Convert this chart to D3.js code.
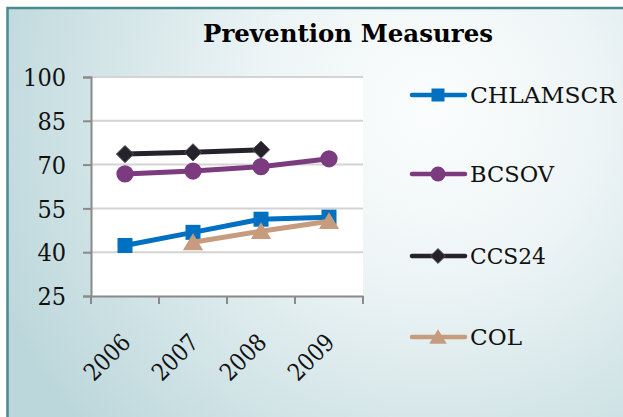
<!DOCTYPE html>
<html><head><meta charset="utf-8">
<script src="https://cdn.jsdelivr.net/npm/d3@7/dist/d3.min.js"></script>
<style>html,body{margin:0;padding:0;background:#fff;overflow:hidden}</style>
</head><body>
<svg id="c" width="623" height="417"></svg>
<script>
const years = ["2006","2007","2008","2009"];
const yTicks = [25,40,55,70,85,100];
const chlamscr = [42.3, 46.8, 51.3, 52.0];
const bcsov = [66.8, 67.8, 69.3, 72.0];
const ccs24 = [73.6, 74.2, 75.1, null];
const col = [null, 43.4, 47.2, 50.6];
const seriesNames = ["CHLAMSCR","BCSOV","CCS24","COL"];
const seriesColors = ["#0070c0","#7b3b7e","#25222b","#c79b7d"];
const seriesShapes = ["square","circle","diamond","triangle"];
const seriesValues = [chlamscr, bcsov, ccs24, col];

const svg = d3.select("#c");
const font = "'DejaVu Serif', serif";

// background
const defs = svg.append("defs");
const rg = defs.append("radialGradient").attr("id","bg")
  .attr("gradientUnits","userSpaceOnUse").attr("cx",430).attr("cy",110).attr("r",470);
rg.append("stop").attr("offset","0%").attr("stop-color","#fbfdfd");
rg.append("stop").attr("offset","35%").attr("stop-color","#eef5f6");
rg.append("stop").attr("offset","100%").attr("stop-color","#bcd7db");
svg.append("rect").attr("x",7.5).attr("y",8).attr("width",630).attr("height",430)
  .attr("fill","url(#bg)").attr("stroke","#4a8a8f").attr("stroke-width",2.5);

const m = {l:91, r:363, t:77, b:296};
const x = d3.scaleBand().domain(years).range([m.l, m.r]);
const y = d3.scaleLinear().domain([25,100]).range([m.b, m.t]);

svg.append("rect").attr("x",m.l).attr("y",m.t).attr("width",m.r-m.l).attr("height",m.b-m.t).attr("fill","#fff");

// gridlines
svg.append("g").selectAll("line").data(yTicks.slice(1)).join("line")
  .attr("x1",m.l).attr("x2",m.r).attr("y1",d=>y(d)).attr("y2",d=>y(d))
  .attr("stroke","#d3d3d3").attr("stroke-width",2);

// axes
const yAxis = svg.append("g").attr("transform",`translate(${m.l},0)`)
  .call(d3.axisLeft(y).tickValues(yTicks).tickSize(8).tickPadding(17));
yAxis.select(".domain").attr("stroke","#8a8a8a").attr("stroke-width",2);
yAxis.selectAll(".tick line").attr("stroke","#8a8a8a").attr("stroke-width",2);
yAxis.selectAll(".tick text").attr("font-family",font).attr("font-size",24).attr("fill","#111")
  .attr("dy","0.36em").each(function(){ const t=d3.select(this); t.attr("textLength", t.text().length*14.3).attr("lengthAdjust","spacingAndGlyphs"); });

const xAxis = svg.append("g").attr("transform",`translate(0,${m.b})`)
  .call(d3.axisBottom(x).tickSize(0).tickFormat(""));
xAxis.select(".domain").attr("stroke","#8a8a8a").attr("stroke-width",2);
svg.append("g").selectAll("line").data(d3.range(years.length+1)).join("line")
  .attr("x1",i=>m.l + i*x.step()).attr("x2",i=>m.l + i*x.step())
  .attr("y1",m.b).attr("y2",m.b+8).attr("stroke","#8a8a8a").attr("stroke-width",2);

svg.append("g").selectAll("text").data(years).join("text")
  .attr("transform",d=>`translate(${x(d)+x.bandwidth()/2+7},${m.b+48}) rotate(-45)`)
  .attr("text-anchor","end").attr("font-family",font).attr("font-size",24).attr("fill","#111")
  .attr("textLength",54).attr("lengthAdjust","spacingAndGlyphs")
  .text(d=>d);

// markers
function marker(g, shape, color, s) {
  if (shape==="square") g.append("rect").attr("x",-s).attr("y",-s).attr("width",2*s).attr("height",2*s).attr("fill",color);
  else if (shape==="circle") g.append("circle").attr("r",s*1.15).attr("fill",color);
  else if (shape==="diamond") g.append("path").attr("d",`M0,${-s*1.15}L${s*1.15},0L0,${s*1.15}L${-s*1.15},0Z`).attr("fill",color).attr("stroke","#55535a").attr("stroke-width",1);
  else g.append("path").attr("d",`M0,${-s*1.2}L${s*1.35},${s*1.05}L${-s*1.35},${s*1.05}Z`).attr("fill",color);
}

const line = d3.line().defined(d=>d.v!=null).x(d=>x(d.yr)+x.bandwidth()/2).y(d=>y(d.v));
seriesValues.forEach((vals,i)=>{
  const pts = years.map((yr,j)=>({yr, v:vals[j]}));
  svg.append("path").attr("d",line(pts)).attr("fill","none").attr("stroke",seriesColors[i]).attr("stroke-width",5);
  pts.filter(p=>p.v!=null).forEach(p=>{
    const g = svg.append("g").attr("transform",`translate(${x(p.yr)+x.bandwidth()/2},${y(p.v)})`);
    marker(g, seriesShapes[i], seriesColors[i], 7.5);
  });
});

// title
svg.append("text").attr("x",348).attr("y",42).attr("text-anchor","middle")
  .attr("font-family",font).attr("font-weight","bold").attr("font-size",25).attr("fill","#000")
  .attr("textLength",290).attr("lengthAdjust","spacingAndGlyphs")
  .text("Prevention Measures");

// legend
const legY = [95,174,256,337];
const legW = [146,84,76,52];
seriesNames.forEach((n,i)=>{
  const g = svg.append("g").attr("transform",`translate(0,${legY[i]})`);
  g.append("line").attr("x1",412).attr("x2",465).attr("y1",0).attr("y2",0)
    .attr("stroke",seriesColors[i]).attr("stroke-width",4.5).attr("stroke-linecap","round");
  const mg = g.append("g").attr("transform","translate(438,0)");
  marker(mg, seriesShapes[i], seriesColors[i], 6.5);
  g.append("text").attr("x",470).attr("y",8).attr("font-family",font)
    .attr("font-size",23).attr("fill","#111")
    .attr("textLength",legW[i]).attr("lengthAdjust","spacingAndGlyphs").text(n);
});
</script>
</body></html>
